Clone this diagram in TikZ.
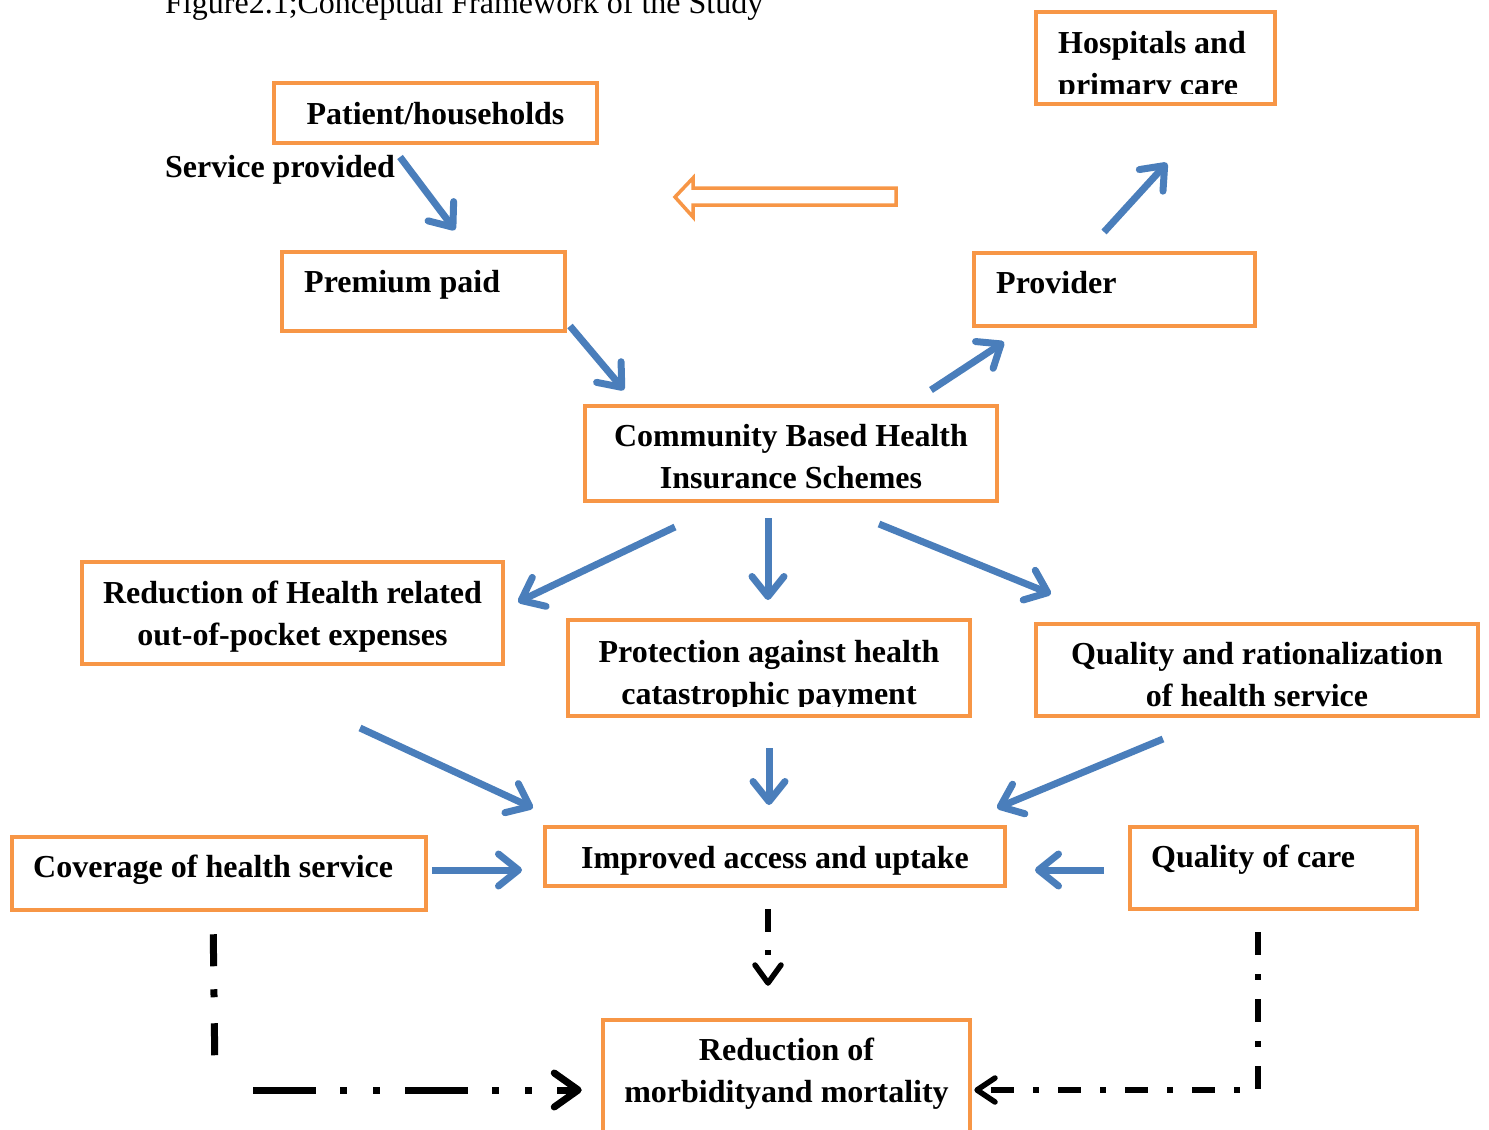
\documentclass[tikz,border=0pt]{standalone}
\usepackage{fontspec}
\setmainfont{Liberation Serif}
\usetikzlibrary{arrows.meta}
\definecolor{boxorange}{HTML}{F79646}
\definecolor{arrblue}{HTML}{4A7EBB}
\begin{document}
\begin{tikzpicture}[x=1pt,y=-1pt,
  box/.style={draw=boxorange, line width=4.5pt, rectangle, inner sep=0pt},
  lbl/.style={font=\fontsize{32}{42}\selectfont\bfseries, inner sep=0pt, anchor=base, align=center},
  lbll/.style={lbl, anchor=base west, align=left},
  barrow/.style={draw=arrblue, line width=7pt, -{Straight Barb[length=20pt,width=32pt,round]}},
  kline/.style={draw=black, line width=6pt},
  karrow/.style={kline, -{Straight Barb[length=20pt,width=30pt,round]}}]
\useasboundingbox (0,0) rectangle (1489,1130);
\clip (0,0) rectangle (1489,1130);

% title
\node[font=\fontsize{32}{42}\selectfont, inner sep=0pt, anchor=base west] (title) at (165,13) {Figure2.1;Conceptual Framework of the Study};

% boxes
\node[box, minimum width=323pt, minimum height=60pt] (patient) at (435.5,113) {};
\node[box, minimum width=283pt, minimum height=79pt] (premium) at (423.5,291.5) {};
\node[box, minimum width=281pt, minimum height=73pt] (provider) at (1114.5,289.5) {};
\node[box, minimum width=412pt, minimum height=95pt] (cbhi) at (791,453.5) {};
\node[box, minimum width=421pt, minimum height=102pt] (redhealth) at (292.5,613) {};
\node[box, minimum width=402pt, minimum height=96pt] (protect) at (769,668) {};
\node[box, minimum width=442pt, minimum height=92pt] (qualrat) at (1257,670) {};
\node[box, minimum width=414pt, minimum height=73pt] (coverage) at (219,873.5) {};
\node[box, minimum width=460pt, minimum height=59pt] (improved) at (775,856.5) {};
\node[box, minimum width=287pt, minimum height=82pt] (qcare) at (1273.5,868) {};
\node[box, minimum width=367pt, minimum height=120pt] (morb) at (786.5,1080) {};

% texts (multi-line nodes: base = baseline of the last line)
\node[lbl] (t-patient) at (435.5,124) {Patient/households};
\node[lbll] (t-service) at (165,177) {Service provided};
\node[lbll] (t-premium) at (304,292) {Premium paid};
\node[lbll] (t-provider) at (996,293) {Provider};
\begin{scope}
  \clip (1038,14) rectangle (1273,93);
  \node[lbll] (t-hosp) at (1058,95) {Hospitals and\\primary care};
\end{scope}
\node[box, minimum width=239pt, minimum height=92pt] (hosp) at (1155.5,58) {};
\node[lbl] (t-cbhi) at (791,488) {Community Based Health\\Insurance Schemes};
\node[lbl] (t-redhealth) at (292.5,645) {Reduction of Health related\\out-of-pocket expenses};
\begin{scope}
  \clip (570,622) rectangle (968,706);
  \node[lbl] (t-protect) at (769,704) {Protection against health\\catastrophic payment};
\end{scope}
\node[lbl] (t-qualrat) at (1257,706) {Quality and rationalization\\of health service};
\node[lbll] (t-coverage) at (33,877) {Coverage of health service};
\node[lbl] (t-improved) at (775,868) {Improved access and uptake};
\node[lbll] (t-qcare) at (1151,867) {Quality of care};
\node[lbl] (t-morb) at (786.5,1102) {Reduction of\\morbidityand mortality};

% hollow arrow
\draw[boxorange, line width=3.5pt, line join=miter, fill=white]
  (675,197) -- (693,178) -- (693,188) -- (896,188) -- (896,205) -- (693,205) -- (693,217) -- cycle;

% blue arrow end points
\coordinate (a1s) at (400,157);  \coordinate (a1e) at (455,230);
\coordinate (a2s) at (570,326);  \coordinate (a2e) at (624,390);
\coordinate (a3s) at (931,390);  \coordinate (a3e) at (1004,342);
\coordinate (a4s) at (1104,232); \coordinate (a4e) at (1167,163);
\coordinate (a5s) at (675,527);  \coordinate (a5e) at (518,602);
\coordinate (a6s) at (768,518);  \coordinate (a6e) at (768,600);
\coordinate (a7s) at (879,524);  \coordinate (a7e) at (1051,594);
\coordinate (a8s) at (360,728);  \coordinate (a8e) at (533,808);
\coordinate (a9s) at (769,748);  \coordinate (a9e) at (769,805);
\coordinate (a10s) at (1163,739); \coordinate (a10e) at (997,808);
\coordinate (a11s) at (432,870); \coordinate (a11e) at (522,870);
\coordinate (a12s) at (1104,870); \coordinate (a12e) at (1035,870);

\foreach \i in {1,...,12} {\draw[barrow] (a\i s) -- (a\i e);}

% black dash-dot connectors
\coordinate (lcorner) at (215,1078);
\coordinate (lstart) at (253,1090);
\draw[kline, line width=7pt, dash pattern=on 32pt off 23pt on 8pt off 26pt, shorten <=22pt]
  (coverage.south -| 213,0) -- (lcorner);
\draw[karrow, line width=7pt, -{Straight Barb[length=24pt,width=34pt,round]},
  dash pattern=on 63pt off 24pt on 7pt off 26pt on 7pt off 25pt, shorten >=19pt]
  (lstart) -- (morb.west |- 0,1090);
\draw[karrow, line width=5.5pt, -{Straight Barb[length=18pt,width=24pt,round]},
  dash pattern=on 23pt off 19pt on 6pt off 19pt, shorten <=21pt, shorten >=2pt]
  (qcare.south -| 1258,0) |- (morb.east |- 0,1090);
\draw[karrow, line width=5.5pt, -{Straight Barb[length=18pt,width=26pt,round]},
  dash pattern=on 23pt off 18pt on 5pt off 40pt, shorten <=21pt, shorten >=32pt]
  (improved.south -| 768,0) -- (morb.north -| 768,0);
\end{tikzpicture}
\end{document}
